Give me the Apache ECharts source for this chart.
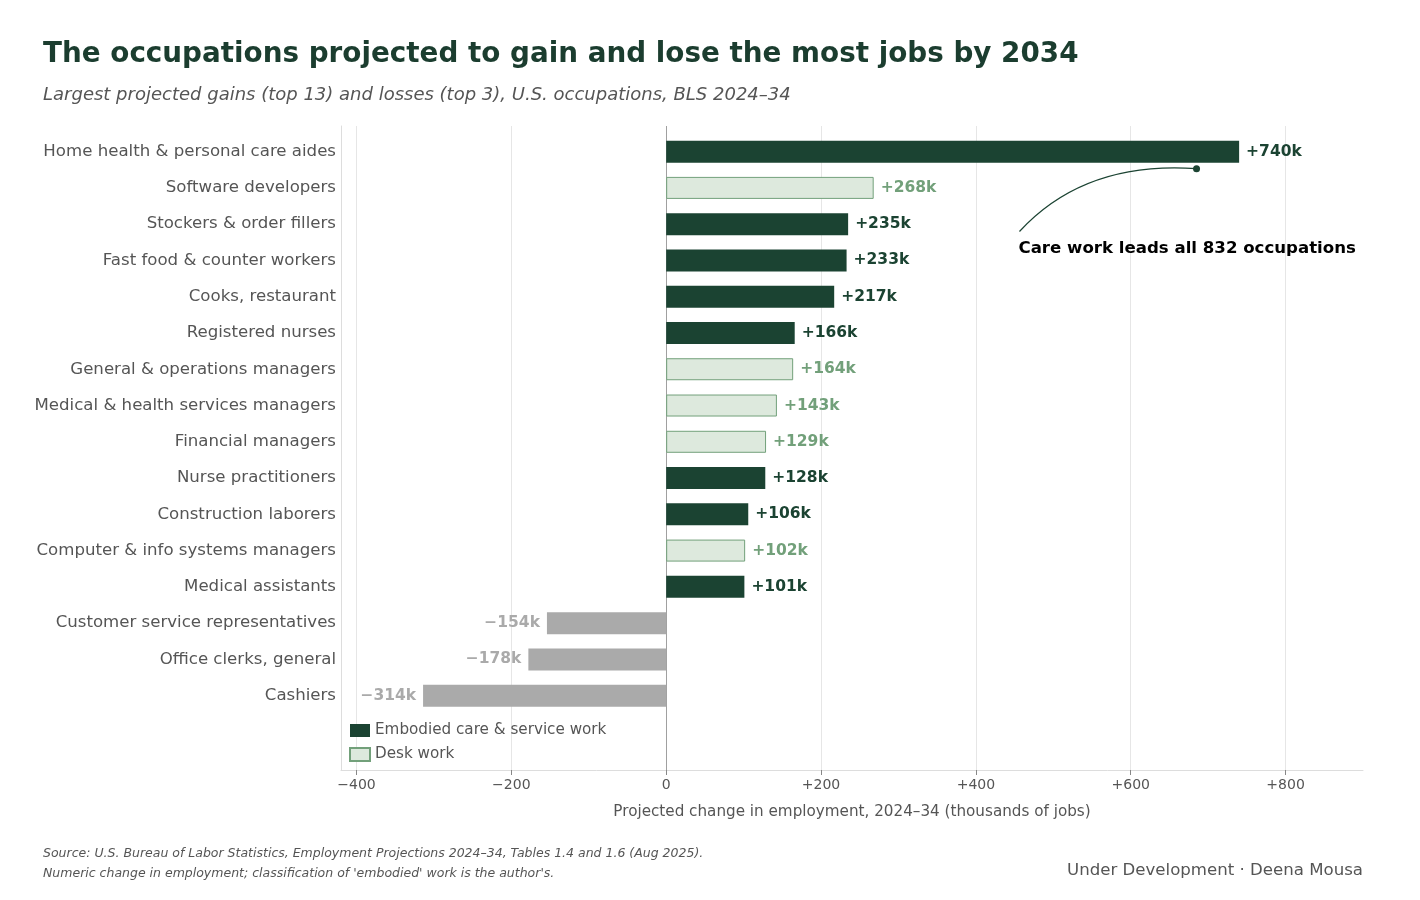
<!DOCTYPE html>
<html>
<head>
<meta charset="utf-8">
<script src="https://cdn.jsdelivr.net/npm/echarts@6/dist/echarts.min.js"></script>
<style>
html, body { margin: 0; padding: 0; background: #fff; }
#chart { width: 1420px; height: 900px; }
</style>
</head>
<body>
<div id="chart"></div>
<script>
/** data **/
var categories = [
  'Home health & personal care aides',
  'Software developers',
  'Stockers & order fillers',
  'Fast food & counter workers',
  'Cooks, restaurant',
  'Registered nurses',
  'General & operations managers',
  'Medical & health services managers',
  'Financial managers',
  'Nurse practitioners',
  'Construction laborers',
  'Computer & info systems managers',
  'Medical assistants',
  'Customer service representatives',
  'Office clerks, general',
  'Cashiers'
];
var changes = [740, 268, 235, 233, 217, 166, 164, 143, 129, 128, 106, 102, 101, -154, -178, -314];
var groups = ['care', 'desk', 'care', 'care', 'care', 'care', 'desk', 'desk', 'desk', 'care', 'care', 'desk', 'care', 'loss', 'loss', 'loss'];
var tickValues = [-400, -200, 0, 200, 400, 600, 800];

var FONT = 'DejaVu Sans';
var DARK = '#1b4332';
var DESK_FILL = '#dde9dd';
var DESK_LINE = '#72a07a';
var LOSS = '#aaaaaa';
var TEXT = '#555555';

function signed(v) {
  if (v > 0) return '+' + v;
  if (v < 0) return '\u2212' + Math.abs(v);
  return '0';
}

function pick(group) {
  return changes.map(function(v, i) { return groups[i] === group ? v : '-'; });
}

function barSeries(name, group, fill, border, labelColor) {
  return {
    name: name,
    type: 'bar',
    stack: 'all',
    xAxisIndex: 0,
    yAxisIndex: 0,
    barWidth: 22,
    z: 3,
    itemStyle: { color: fill, borderColor: border, borderWidth: border ? 1 : 0 },
    label: {
      show: true,
      position: group === 'loss' ? 'left' : 'right',
      distance: 7,
      fontFamily: FONT,
      fontSize: 15.5,
      fontWeight: 'bold',
      color: labelColor,
      formatter: function(p) { return signed(p.value) + 'k'; }
    },
    data: pick(group)
  };
}

var chart = echarts.init(document.getElementById('chart'));

var option = {
  backgroundColor: '#fff',
  animation: false,
  textStyle: { fontFamily: FONT },
  title: [
    { text: 'The occupations projected to gain and lose the most jobs by 2034', left: 43, top: 41, padding: 0,
      textStyle: { fontFamily: FONT, fontSize: 27.8, fontWeight: 'bold', color: '#1b3d2f' } },
    { text: 'Largest projected gains (top 13) and losses (top 3), U.S. occupations, BLS 2024\u201334', left: 43, top: 86, padding: 0,
      textStyle: { fontFamily: FONT, fontSize: 18, fontStyle: 'italic', fontWeight: 'normal', color: TEXT } },
    { text: 'Source: U.S. Bureau of Labor Statistics, Employment Projections 2024\u201334, Tables 1.4 and 1.6 (Aug 2025).', left: 43, top: 847, padding: 0,
      textStyle: { fontFamily: FONT, fontSize: 12.5, fontStyle: 'italic', fontWeight: 'normal', color: TEXT } },
    { text: "Numeric change in employment; classification of 'embodied' work is the author's.", left: 43, top: 867, padding: 0,
      textStyle: { fontFamily: FONT, fontSize: 12.5, fontStyle: 'italic', fontWeight: 'normal', color: TEXT } },
    { text: 'Under Development \u00b7 Deena Mousa', right: 57, top: 862, padding: 0,
      textStyle: { fontFamily: FONT, fontSize: 16.6, fontWeight: 'normal', color: TEXT } }
  ],
  legend: {
    orient: 'vertical',
    left: 349,
    top: 723,
    padding: 0,
    itemWidth: 20,
    itemHeight: 13,
    itemGap: 9,
    icon: 'rect',
    data: ['Embodied care & service work', 'Desk work'],
    textStyle: { fontFamily: FONT, fontSize: 15.2, color: TEXT }
  },
  grid: [
    { left: 341, right: 57, top: 133.5, height: 580.3 },
    { left: 341, right: 57, top: 126, bottom: 130 }
  ],
  xAxis: [
    { gridIndex: 0, type: 'value', min: -420, max: 900, show: false },
    {
      gridIndex: 1, type: 'value', min: -420, max: 900,
      name: 'Projected change in employment, 2024\u201334 (thousands of jobs)',
      nameLocation: 'middle',
      nameGap: 35,
      nameTextStyle: { fontFamily: FONT, fontSize: 15.2, color: TEXT },
      axisLine: { show: true, lineStyle: { color: '#dddddd', width: 1 } },
      axisTick: { show: true, customValues: tickValues, length: 5, lineStyle: { color: '#888888' } },
      axisLabel: { customValues: tickValues, margin: 8, fontFamily: FONT, fontSize: 14, color: TEXT,
        formatter: function(v) { return signed(v); } },
      splitLine: { show: false }
    }
  ],
  yAxis: [
    {
      gridIndex: 0, type: 'category', inverse: true, data: categories,
      axisLine: { show: false },
      axisTick: { show: false },
      axisLabel: { margin: 5, fontFamily: FONT, fontSize: 16.6, color: TEXT }
    },
    {
      gridIndex: 1, type: 'value', min: 0, max: 1,
      axisLine: { show: true, onZero: false, lineStyle: { color: '#dddddd', width: 1 } },
      axisTick: { show: false },
      axisLabel: { show: false },
      splitLine: { show: false }
    }
  ],
  series: [
    barSeries('Embodied care & service work', 'care', DARK, null, DARK),
    barSeries('Desk work', 'desk', DESK_FILL, DESK_LINE, DESK_LINE),
    barSeries('Losses', 'loss', LOSS, null, LOSS),
    {
      name: 'gridlines',
      type: 'line',
      xAxisIndex: 1,
      yAxisIndex: 1,
      data: [],
      silent: true,
      markLine: {
        silent: true,
        symbol: 'none',
        z: 1,
        label: { show: false },
        data: tickValues.map(function(v) {
          return { xAxis: v, lineStyle: { type: 'solid', width: 1, color: v === 0 ? '#a0a0a0' : '#e6e6e6' } };
        })
      }
    }
  ]
};

chart.setOption(option);

/** annotation, anchored to data coordinates **/
var row0 = chart.convertToPixel({ gridIndex: 0 }, [685, 0]);
var row1 = chart.convertToPixel({ gridIndex: 0 }, [685, 1]);
var rowH = row1[1] - row0[1];
var dot = [row0[0], row0[1] + 0.47 * rowH];
var txt = chart.convertToPixel({ gridIndex: 0 }, [455, 2]);
txt[1] = txt[1] + 0.67 * rowH;
var start = [txt[0] + 1, txt[1] - 17];
var ctrl = [dot[0] - 112, dot[1] - 8];

chart.setOption({
  graphic: [
    {
      type: 'bezierCurve',
      silent: true,
      z: 10,
      shape: { x1: start[0], y1: start[1], x2: dot[0], y2: dot[1], cpx1: ctrl[0], cpy1: ctrl[1] },
      style: { stroke: DARK, lineWidth: 1.2, fill: null }
    },
    {
      type: 'circle',
      silent: true,
      z: 10,
      shape: { cx: dot[0], cy: dot[1], r: 3.5 },
      style: { fill: DARK }
    },
    {
      type: 'text',
      silent: true,
      z: 10,
      x: txt[0],
      y: txt[1],
      style: {
        text: 'Care work leads all 832 occupations',
        fontFamily: FONT,
        fontSize: 16.6,
        fontWeight: 'bold',
        fill: '#000000',
        align: 'left',
        verticalAlign: 'middle'
      }
    }
  ]
});
</script>
</body>
</html>
